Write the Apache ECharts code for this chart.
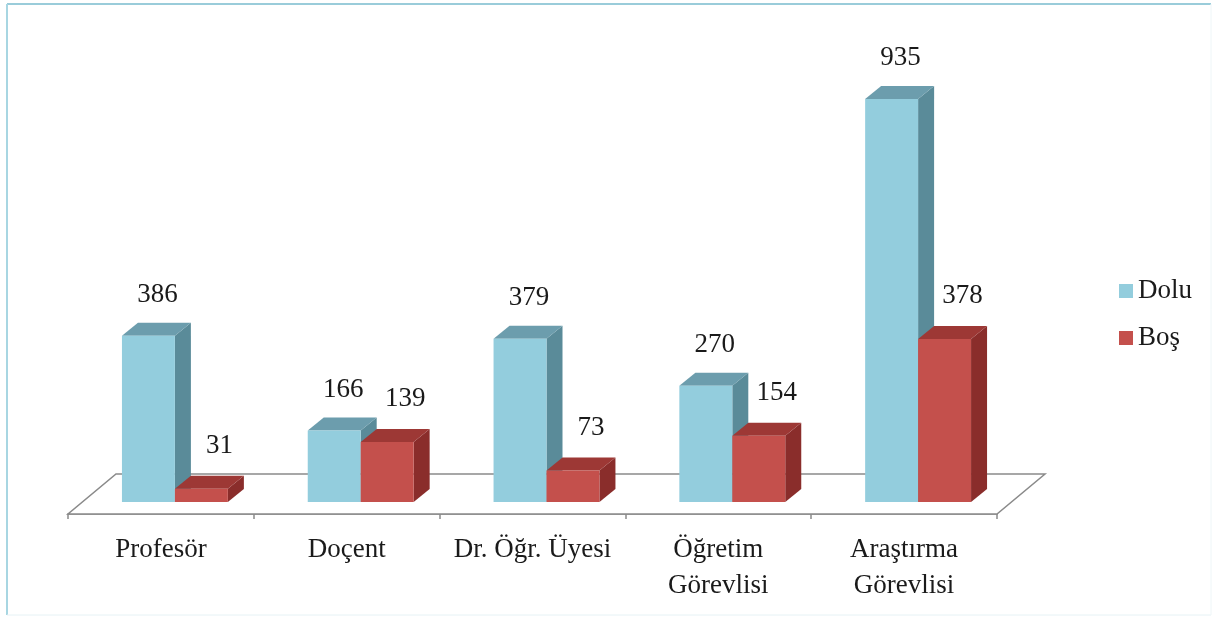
<!DOCTYPE html>
<html>
<head>
<meta charset="utf-8">
<script src="https://cdn.jsdelivr.net/npm/echarts@6/dist/echarts.min.js"></script>
<style>
html,body{margin:0;padding:0;background:#fff;}
#chart{width:1213px;height:618px;}
</style>
</head>
<body>
<div id="chart"></div>
<script>
// ---- data ----
const categories = ['Profesör', 'Doçent', 'Dr. Öğr. Üyesi', 'Öğretim\nGörevlisi', 'Araştırma\nGörevlisi'];
const seriesNames = ['Dolu', 'Boş'];
const doluValues = [386, 166, 379, 270, 935];
const bosValues = [31, 139, 73, 154, 378];

// ---- styles ----
const FONT = 'Liberation Serif';
const TEXT_COLOR = '#1a1a1a';
const palettes = [
  { front: '#93CDDD', top: '#6C9DAD', side: '#5A8B99' },
  { front: '#C4504C', top: '#9D3835', side: '#8A2D2B' }
];
const GEO = { barRatio: 0.285, shiftX: 14, shiftY: -12, depthX: 16, depthY: -13 };
const labelOffsets = [{ dx: 9, dy: 28 }, { dx: 18, dy: 30 }];

function barRenderer(seriesIdx) {
  const pal = palettes[seriesIdx];
  const off = labelOffsets[seriesIdx];
  return function (params, api) {
    const i = api.value(0), v = api.value(1);
    const base = api.coord([i, 0]);
    const topPt = api.coord([i, v]);
    const band = api.size([1, 0])[0];
    const bw = band * GEO.barRatio;
    const cx = base[0] + GEO.shiftX;
    const x0 = seriesIdx === 0 ? cx - bw : cx;
    const x1 = x0 + bw;
    const yb = base[1] + GEO.shiftY;
    const yt = topPt[1] + GEO.shiftY;
    const dx = GEO.depthX, dy = GEO.depthY;
    return {
      type: 'group',
      children: [
        { type: 'polygon', shape: { points: [[x1, yb], [x1, yt], [x1 + dx, yt + dy], [x1 + dx, yb + dy]] }, style: { fill: pal.side } },
        { type: 'polygon', shape: { points: [[x0, yt], [x1, yt], [x1 + dx, yt + dy], [x0 + dx, yt + dy]] }, style: { fill: pal.top } },
        { type: 'rect', shape: { x: x0, y: yt, width: bw, height: yb - yt }, style: { fill: pal.front } },
        { type: 'text', style: { text: String(v), x: (x0 + x1) / 2 + off.dx, y: yt + dy - off.dy,
            align: 'center', verticalAlign: 'middle', fontFamily: FONT, fontSize: 27, fill: TEXT_COLOR } }
      ]
    };
  };
}

function floorRenderer(params, api) {
  const band = api.size([1, 0])[0];
  const L = api.coord([0, 0])[0] - band / 2;
  const R = api.coord([categories.length - 1, 0])[0] + band / 2;
  const y = api.coord([0, 0])[1];
  const fdx = 48, fdy = -40;
  return {
    type: 'polygon',
    shape: { points: [[L, y], [R, y], [R + fdx, y + fdy], [L + fdx, y + fdy]] },
    style: { fill: '#ffffff', stroke: '#8a8a8a', lineWidth: 1.5 }
  };
}

const chart = echarts.init(document.getElementById('chart'));
chart.setOption({
  animation: false,
  backgroundColor: '#ffffff',
  color: [palettes[0].front, palettes[1].front],
  grid: { left: 68, right: 216, top: 83, bottom: 104 },
  xAxis: {
    type: 'category',
    data: categories,
    boundaryGap: true,
    axisLine: { show: true, lineStyle: { color: '#8a8a8a', width: 1.5 } },
    axisTick: { show: true, length: 5, lineStyle: { color: '#8a8a8a', width: 1.5 } },
    axisLabel: { margin: 18, fontFamily: FONT, fontSize: 27, lineHeight: 36, color: TEXT_COLOR, interval: 0 }
  },
  yAxis: { type: 'value', min: 0, max: 1000, show: false, splitLine: { show: false } },
  legend: {
    orient: 'vertical',
    left: 1119,
    top: 276,
    padding: 0,
    icon: 'rect',
    itemWidth: 14,
    itemHeight: 14,
    itemGap: 17,
    itemStyle: { borderWidth: 0 },
    textStyle: { fontFamily: FONT, fontSize: 27, lineHeight: 30, color: TEXT_COLOR, padding: [0, 0, 0, 0] },
    data: seriesNames
  },
  graphic: [
    { type: 'line', shape: { x1: 7, y1: 4, x2: 1211, y2: 4 }, style: { stroke: '#9ACCDA', lineWidth: 2 }, silent: true },
    { type: 'line', shape: { x1: 7, y1: 4, x2: 7, y2: 615 }, style: { stroke: '#A8D6E2', lineWidth: 2 }, silent: true },
    { type: 'line', shape: { x1: 7, y1: 615, x2: 1211, y2: 615 }, style: { stroke: '#E6F2F5', lineWidth: 1 }, silent: true },
    { type: 'line', shape: { x1: 1211, y1: 4, x2: 1211, y2: 615 }, style: { stroke: '#EEF6F8', lineWidth: 1 }, silent: true }
  ],
  series: [
    { type: 'custom', name: 'floor', renderItem: floorRenderer, data: [[0, 0]], z: 1, silent: true, clip: false, legendHoverLink: false },
    { type: 'custom', name: seriesNames[0], renderItem: barRenderer(0), itemStyle: { color: palettes[0].front },
      data: doluValues.map((v, i) => [i, v]), encode: { x: 0, y: 1 }, z: 3, clip: false },
    { type: 'custom', name: seriesNames[1], renderItem: barRenderer(1), itemStyle: { color: palettes[1].front },
      data: bosValues.map((v, i) => [i, v]), encode: { x: 0, y: 1 }, z: 4, clip: false }
  ]
});
</script>
</body>
</html>
